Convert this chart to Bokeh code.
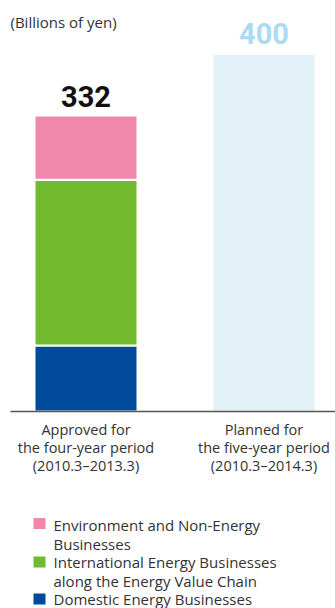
from bokeh.plotting import figure
from bokeh.models import Range1d, ColumnDataSource
from bokeh.core.properties import value
from bokeh.embed import file_html
from bokeh.resources import INLINE

# ---------------- data ----------------
period_lines = [
    ["Approved for", "the four-year period", "(2010.3\u20132013.3)"],
    ["Planned for", "the five-year period", "(2010.3\u20132014.3)"],
]
stack_names = ["domestic", "international", "environment"]
domestic = [74]
international = [186]
environment = [72]
approved_total = [332]
planned_total = [400]
unit_label = "(Billions of yen)"
legend_lines = [
    ["Environment and Non-Energy", "Businesses"],
    ["International Energy Businesses", "along the Energy Value Chain"],
    ["Domestic Energy Businesses"],
]

# ---------------- style ----------------
BLUE = "#004a9b"
GREEN = "#72bb2e"
PINK = "#ef88aa"
PLAN = "#e3f2f8"
PLAN_TXT = "#a9dcf4"
TXT = "#333333"

W, H = 335, 608
BASE = 411.0          # pixel row of value 0
PXY = 296.0 / 332.0   # pixels per unit (y)
PXX = 178.0           # pixels per category step (x)
X0 = -85.5 / PXX

def yd(pix):
    return (BASE - pix) / PXY

def xd(pix):
    return X0 + pix / PXX

p = figure(width=W, height=H, output_backend="svg", toolbar_location=None,
           x_range=Range1d(X0, X0 + W / PXX), y_range=Range1d(yd(H), yd(0)),
           x_axis_type=None, y_axis_type=None, min_border=0,
           outline_line_color=None, background_fill_color="white",
           border_fill_color="white")
p.grid.visible = False

BW = 101.0 / PXX

# planned bar
p.vbar(x=[1], top=planned_total, bottom=0, width=BW, fill_color=PLAN, line_color=None)

# approved stacked bar
src = ColumnDataSource(dict(x=[0], domestic=domestic, international=international,
                            environment=environment))
p.vbar_stack(stack_names, x="x", width=BW + 2 / PXX, source=src,
             fill_color=[BLUE, GREEN, PINK], line_color="white", line_width=2)

# baseline
p.segment(x0=[xd(10)], y0=[0], x1=[xd(W)], y1=[0], line_color="#555555", line_width=1.5)

# totals
p.text(x=[0], y=approved_total, text=[str(v) for v in approved_total],
       text_font=value("Roboto"), text_font_style="bold",
       text_font_size="29px", text_color="#111111", text_align="center",
       text_baseline="middle", y_offset=-19)
p.text(x=[1], y=planned_total, text=[str(v) for v in planned_total],
       text_font=value("Roboto"), text_font_style="bold",
       text_font_size="29px", text_color=PLAN_TXT, text_align="center",
       text_baseline="middle", y_offset=-21)

# unit label
p.text(x=[xd(10)], y=[yd(21)], text=[unit_label], text_font=value("Open Sans"),
       text_font_size="15px", text_color=TXT, text_align="left", text_baseline="middle")

# category labels
cx, cy, ct = [], [], []
for i, lines in enumerate(period_lines):
    for j, line in enumerate(lines):
        cx.append(i)
        cy.append(yd(429 + 18 * j))
        ct.append(line)
p.text(x=cx, y=cy, text=ct, text_font=value("Open Sans"), text_font_size="14.5px",
       text_color=TXT, text_align="center", text_baseline="middle")

# legend
leg_colors = [PINK, GREEN, BLUE]
sq_y = [523, 561.5, 598.5]
lx, ly, lt = [], [], []
row = 524.5
for k, lines in enumerate(legend_lines):
    for line in lines:
        lx.append(xd(53))
        ly.append(yd(row))
        lt.append(line)
        row += 18.5
p.rect(x=[xd(39)] * 3, y=[yd(v) for v in sq_y], width=12, height=11,
       width_units="screen", height_units="screen", fill_color=leg_colors, line_color=None)
p.text(x=lx, y=ly, text=lt, text_font=value("Open Sans"), text_font_size="15px",
       text_color=TXT, text_align="left", text_baseline="middle")

open("out.html", "w").write(file_html(p, INLINE))
